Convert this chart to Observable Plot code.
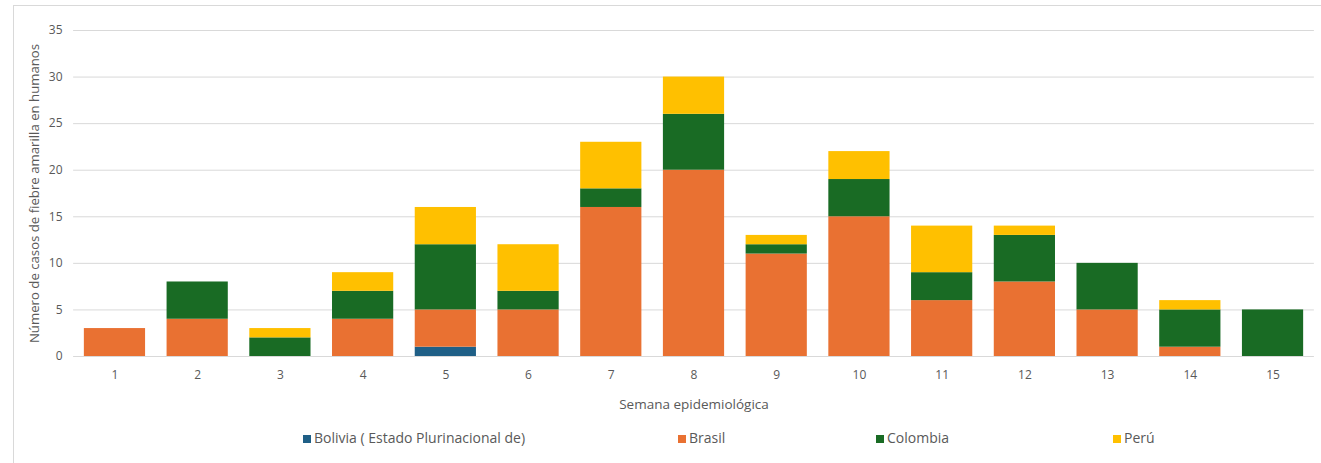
<!DOCTYPE html>
<html>
<head>
<meta charset="utf-8">
<script src="https://cdn.jsdelivr.net/npm/d3@7"></script>
<script src="https://cdn.jsdelivr.net/npm/@observablehq/plot@0.6"></script>
<style>
  html, body { margin: 0; padding: 0; background: #fff; }
  #wrap { position: relative; width: 1321px; height: 463px; overflow: hidden; }
  #frame { position: absolute; left: 13px; top: 5px; width: 1330px; height: 470px; border: 1px solid #d9d9d9; box-sizing: border-box; }
  #chart { position: absolute; left: 0; top: 0; }
  .leg { position: absolute; top: 428px; font-family: "Liberation Sans Narrow", "Open Sans", sans-serif; font-size: 14px; color: #595959; white-space: nowrap; }
  .leg span.sw { display: inline-block; width: 8px; height: 8px; margin-right: 3px; vertical-align: 0px; }
</style>
</head>
<body>
<div id="wrap">
  <div id="frame"></div>
  <div id="chart"></div>
</div>
<script>
const weeks = [1, 2, 3, 4, 5, 6, 7, 8, 9, 10, 11, 12, 13, 14, 15];
const countries = ["Bolivia ( Estado Plurinacional de)", "Brasil", "Colombia", "Perú"];
const colors = ["#1f5f86", "#e97132", "#196b24", "#ffc000"];
const bolivia  = [0, 0, 0, 0, 1, 0, 0, 0, 0, 0, 0, 0, 0, 0, 0];
const brasil   = [3, 4, 0, 4, 4, 5, 16, 20, 11, 15, 6, 8, 5, 1, 0];
const colombia = [0, 4, 2, 3, 7, 2, 2, 6, 1, 4, 3, 5, 5, 4, 5];
const peru     = [0, 0, 1, 2, 4, 5, 5, 4, 1, 3, 5, 1, 0, 1, 0];
const yTicks = [0, 5, 10, 15, 20, 25, 30, 35];
const yLabel = "Número de casos de fiebre amarilla en humanos";
const xLabel = "Semana epidemiológica";
const legendX = [303, 678, 876, 1113];

const series = [bolivia, brasil, colombia, peru];
const data = [];
countries.forEach((c, i) => weeks.forEach((w, j) => data.push({week: w, country: c, value: series[i][j]})));

const chart = Plot.plot({
  width: 1321,
  height: 420,
  marginLeft: 73.1,
  marginRight: 7.1,
  marginTop: 30,
  marginBottom: 64,
  style: {fontFamily: "Open Sans, sans-serif", fontSize: "12px", color: "#595959", background: "transparent"},
  x: {type: "band", domain: weeks, paddingInner: 0.26, paddingOuter: 0.13, round: false},
  y: {domain: [0, 35]},
  color: {domain: countries, range: colors},
  marks: [
    Plot.gridY(yTicks, {stroke: "#d9d9d9", strokeOpacity: 1}),
    Plot.barY(data, {x: "week", y: "value", fill: "country"}),
    Plot.axisY(yTicks, {tickSize: 0, tickPadding: 11, label: null, fill: "#595959"}),
    Plot.axisY([], {tickSize: 0, label: yLabel, labelAnchor: "center", labelOffset: 44, labelArrow: "none", fill: "#595959", fontSize: 13.2}),
    Plot.axisX({tickSize: 0, tickPadding: 14, label: null, fill: "#595959"}),
    Plot.axisX([], {tickSize: 0, label: xLabel, labelAnchor: "center", labelOffset: 52, labelArrow: "none", fill: "#595959", fontSize: 13.5})
  ]
});
document.getElementById("chart").appendChild(chart);

const wrap = document.getElementById("wrap");
countries.forEach((c, i) => {
  const d = document.createElement("div");
  d.className = "leg";
  d.style.left = legendX[i] + "px";
  d.innerHTML = `<span class="sw" style="background:${colors[i]}"></span>${c}`;
  wrap.appendChild(d);
});
</script>
</body>
</html>
